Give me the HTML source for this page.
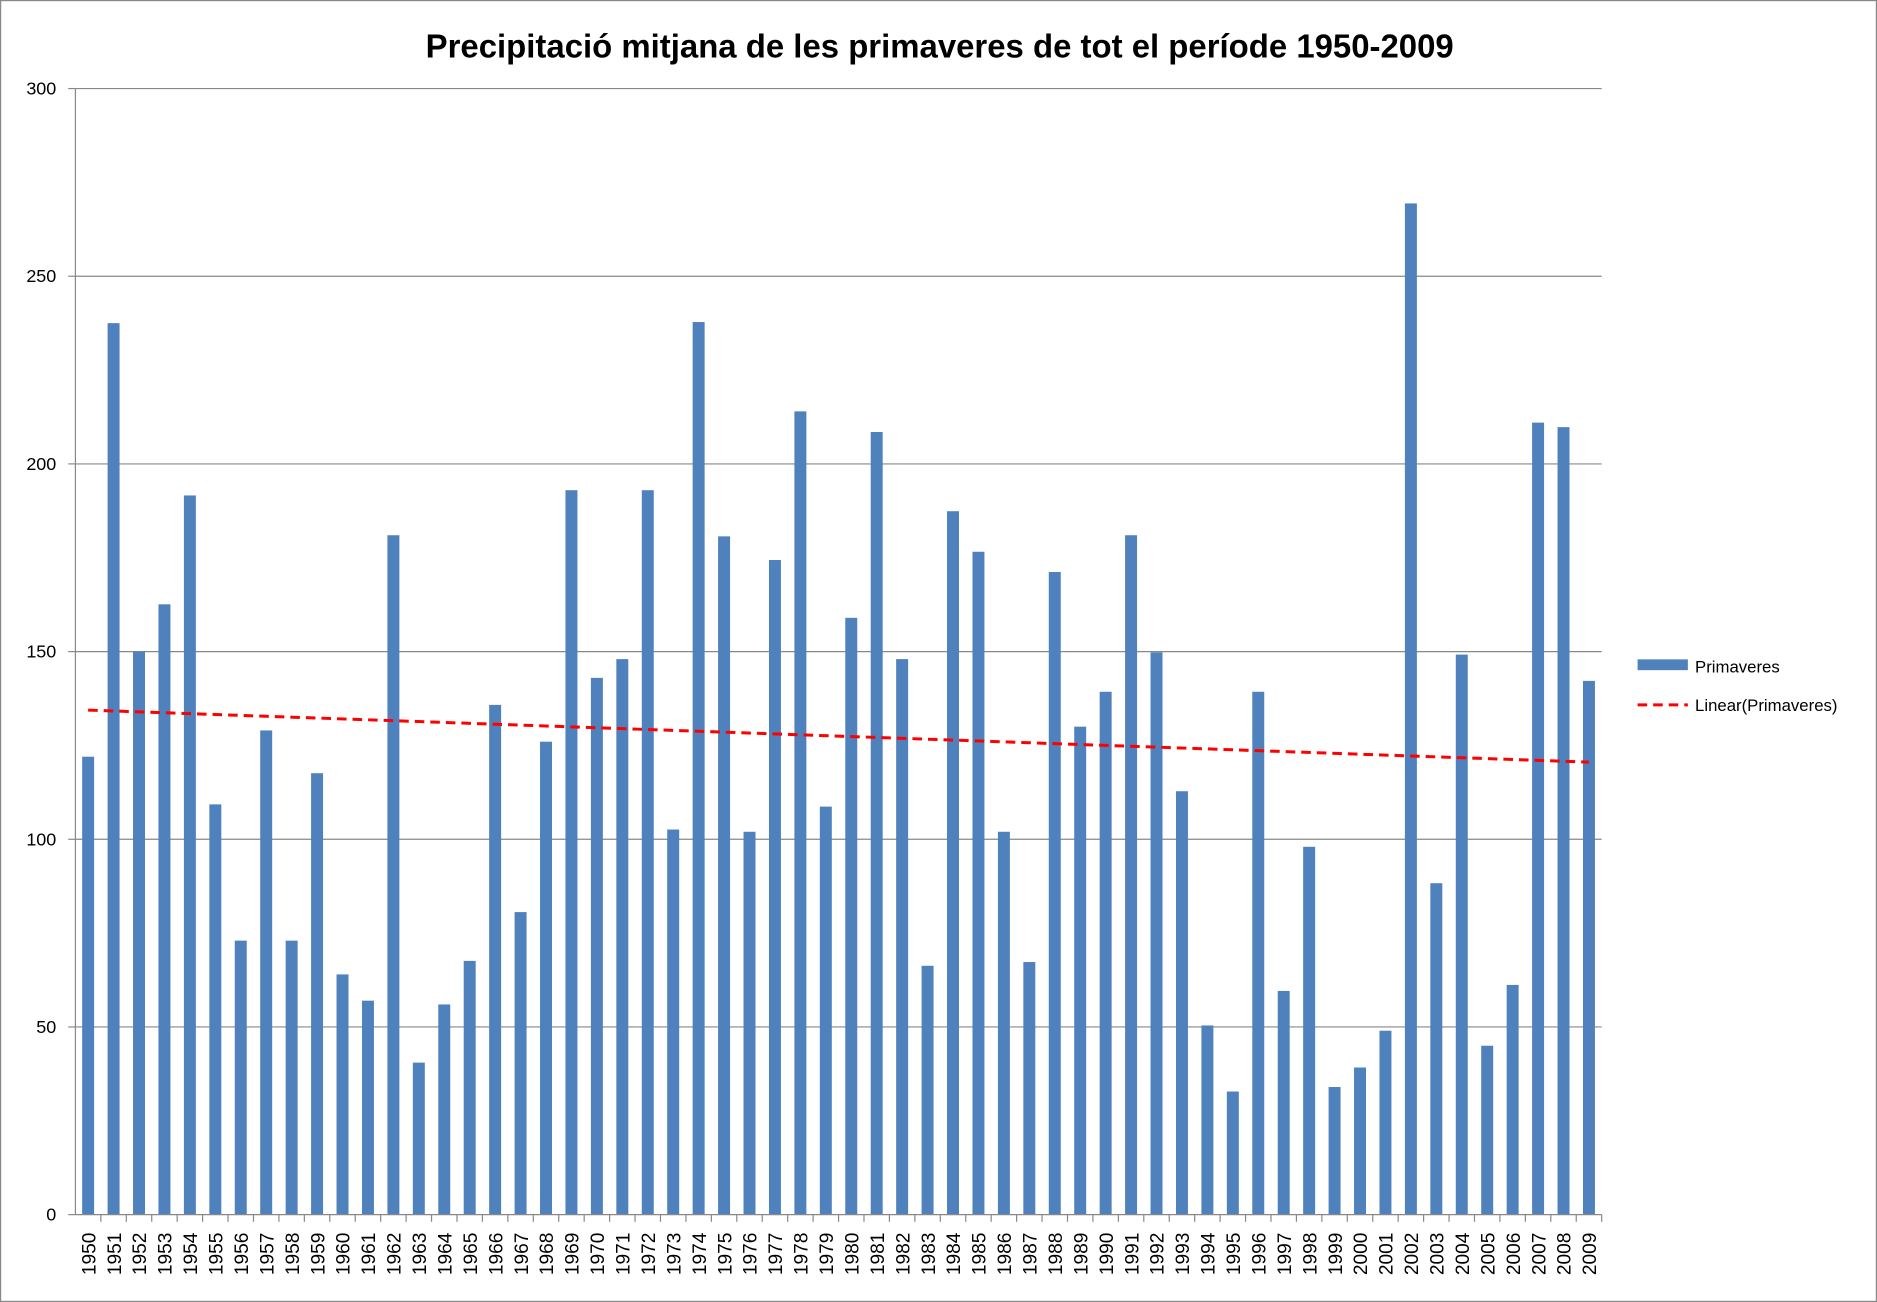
<!DOCTYPE html>
<html><head><meta charset="utf-8"><style>
body{margin:0;background:#fff;}
svg{display:block;font-family:"Liberation Sans",Arial,sans-serif;}
</style></head><body>
<svg id="chart" width="1877" height="1302" viewBox="0 0 1568 1088" preserveAspectRatio="none">
<rect x="0.5" y="0.5" width="1567" height="1087" fill="#fff" stroke="#888"/>
<text x="785" y="48" text-anchor="middle" font-size="27.5" font-weight="bold">Precipitació mitjana de les primaveres de tot el període 1950-2009</text>
<g id="grid"></g><g id="bars"></g><g id="axes"></g>
<g>
<rect x="1368" y="551" width="42" height="9" fill="#4f81bd"/>
<text x="1416" y="562" font-size="14">Primaveres</text>
<line x1="1368" y1="589" x2="1410" y2="589" stroke="#ff0000" stroke-width="2.5" stroke-dasharray="8,5"/>
<text x="1416" y="594" font-size="14">Linear(Primaveres)</text>
</g>
</svg>
<script>
const years=[];for(let y=1950;y<=2009;y++)years.push(String(y));
const values=[122,237.5,150,162.6,191.6,109.3,73,129,73,117.6,64,57,181,40.5,56,67.6,135.8,80.6,126,193,143,148,193,102.6,237.8,180.7,102,174.4,214,108.7,159,208.5,148,66.3,187.4,176.6,102,67.3,171.2,130,139.3,181,149.8,112.8,50.4,32.8,139.3,59.6,98,34,39.2,49,269.4,88.3,149.2,45,61.2,211,209.8,142.2];
const yTicks=[0,50,100,150,200,250,300];
const NS="http://www.w3.org/2000/svg";
const L=63,R=1338,T=74,B=1015,YMAX=300;
const yS=v=>B-(v/YMAX)*(B-T);
const bw=(R-L)/years.length;
const xC=i=>L+bw*(i+0.5);
function mk(p,tag,at){const e=document.createElementNS(NS,tag);for(const k in at)e.setAttribute(k,at[k]);p.appendChild(e);return e;}
const grid=document.getElementById('grid'),bars=document.getElementById('bars'),axes=document.getElementById('axes');
yTicks.forEach(t=>{
 const y=yS(t);
 if(t>0){const g=mk(grid,'line',{x1:L,x2:R,y1:y,y2:y,stroke:'#888','stroke-width':1});
 
 }
 const tk=mk(axes,'line',{x1:L-6,x2:L,y1:y,y2:y,stroke:'#888'});
 
 
 const tx=mk(axes,'text',{x:L-16,y:y+5,'text-anchor':'end','font-size':15});tx.textContent=t;
 
 
});
mk(axes,'line',{x1:L,x2:L,y1:T,y2:B,stroke:'#888'});
mk(axes,'line',{x1:L,x2:R,y1:B,y2:B,stroke:'#888'});
values.forEach((v,i)=>{
 const r=mk(bars,'rect',{x:xC(i)-5,y:yS(v),width:10,height:B-yS(v),fill:'#4f81bd'});
 
 
 const tk=mk(axes,'line',{x1:L+bw*(i+1),x2:L+bw*(i+1),y1:B,y2:B+6,stroke:'#888'});
 
 
 const tx=mk(axes,'text',{x:0,y:0,'text-anchor':'end','font-size':16,transform:`translate(${xC(i)+6},${B+15}) rotate(-90)`});
 tx.textContent=years[i];
 
 
});
const n=values.length;let sx=0,sy=0,sxy=0,sxx=0;
values.forEach((v,i)=>{sx+=i;sy+=v;sxy+=i*v;sxx+=i*i;});
const m=(n*sxy-sx*sy)/(n*sxx-sx*sx),b=(sy-m*sx)/n;
const tl=mk(axes,'line',{x1:xC(0),y1:yS(b),x2:xC(n-1),y2:yS(b+m*(n-1)),stroke:'#ff0000','stroke-width':2.5,'stroke-dasharray':'8,5'});


</script>
</body></html>
